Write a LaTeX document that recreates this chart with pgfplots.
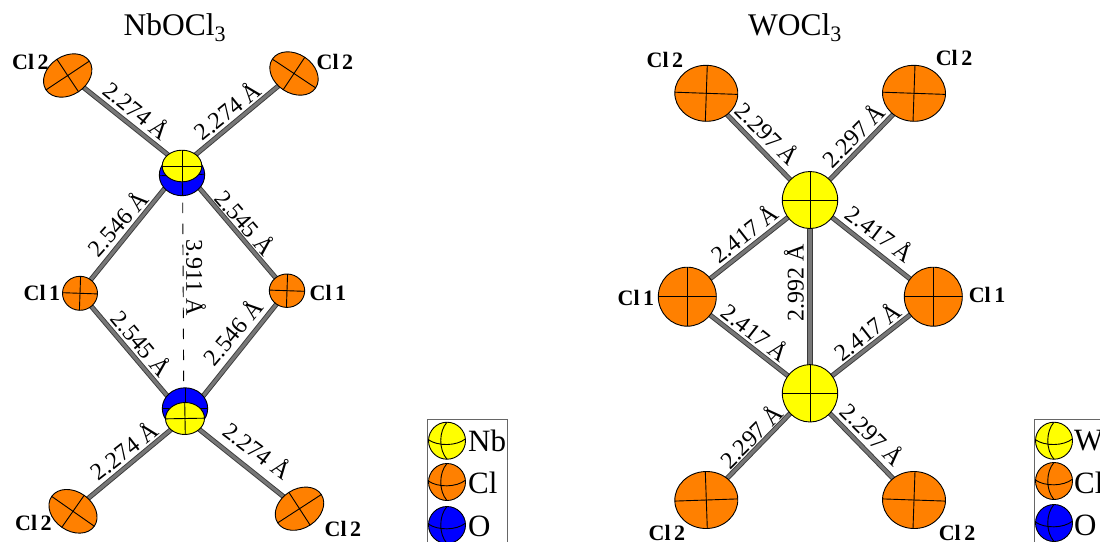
\documentclass[border=0pt]{standalone}
\usepackage{fontspec}
\setmainfont{Liberation Serif}
\usepackage{pgfplots}
\pgfplotsset{compat=1.18}

\definecolor{clorange}{HTML}{FF8000}
\definecolor{atomyellow}{HTML}{FFFF00}
\definecolor{atomblue}{HTML}{0000FF}
\definecolor{bondgray}{HTML}{777777}
\definecolor{bondedge}{HTML}{3A3A3A}

% unit ellipsoid with principal axes
\pgfdeclareplotmark{atom}{%
  \pgfpathcircle{\pgfpointorigin}{1pt}\pgfusepathqfillstroke
  \pgfpathmoveto{\pgfqpoint{-1pt}{0pt}}\pgfpathlineto{\pgfqpoint{1pt}{0pt}}
  \pgfpathmoveto{\pgfqpoint{0pt}{-1pt}}\pgfpathlineto{\pgfqpoint{0pt}{1pt}}
  \pgfusepathqstroke}
% legend sphere, curved axes
\pgfdeclareplotmark{sphere}{%
  \pgfpathcircle{\pgfpointorigin}{1pt}\pgfusepathqfillstroke
  \pgfpathmoveto{\pgfqpoint{-1pt}{0.05pt}}
  \pgfpathcurveto{\pgfqpoint{-0.5pt}{-0.3pt}}{\pgfqpoint{0.5pt}{-0.3pt}}{\pgfqpoint{1pt}{0.1pt}}
  \pgfpathmoveto{\pgfqpoint{0pt}{1pt}}
  \pgfpathcurveto{\pgfqpoint{-0.45pt}{0.5pt}}{\pgfqpoint{-0.45pt}{-0.5pt}}{\pgfqpoint{0pt}{-1pt}}
  \pgfusepathqstroke}

\newcommand{\atom}[6]{\addplot[only marks,mark=atom,mark options={rotate=#5,xscale=#3,yscale=#4,fill=#6,draw=black,line width=0.9pt,solid}] coordinates {(#1,#2)};}
\newcommand{\sphere}[3]{\addplot[only marks,mark=sphere,mark options={scale=18.5,fill=#3,draw=black,line width=0.9pt,solid}] coordinates {(#1,#2)};}
\newcommand{\bond}[4]{%
  \addplot[bondedge,line width=5pt] coordinates {(#1,#2) (#3,#4)};
  \addplot[bondgray,line width=3.2pt] coordinates {(#1,#2) (#3,#4)};}
\newcommand{\dist}[4]{\node[rotate=#3,inner sep=0pt,font=\fontsize{24}{24}\selectfont] at (axis cs:#1,#2) {#4~Å};}
\newcommand{\cl}[3]{\node[inner sep=0pt,font=\fontsize{22}{22}\selectfont\bfseries] at (axis cs:#1,#2) {Cl\hspace{0.16em}#3};}
\newcommand{\legtext}[3]{\node[anchor=west,inner sep=0pt,font=\fontsize{31}{31}\selectfont] at (axis cs:#1,#2) {#3};}

\begin{document}
\begin{tikzpicture}
\path[use as bounding box,clip] (0,0) rectangle (1100pt,541pt);
\begin{axis}[
    scale only axis,
    width=1100pt,
    height=541pt,
    xmin=0, xmax=1100,
    ymin=0, ymax=541,
    y dir=reverse,
    hide axis]

  % NbOCl3
  \node[font=\fontsize{31.5}{32}\selectfont] at (axis cs:175,28) {NbOCl\textsubscript{3}};
  \addplot[black,line width=0.9pt,dash pattern=on 10.5pt off 10.5pt] coordinates {(182.7,202.7) (183.7,383)};
  \bond{182}{166}{68}{75}
  \bond{182}{166}{294}{73}
  \bond{185}{418}{73}{511}
  \bond{185}{418}{299}{509}
  \atom{182}{175}{22.7}{20.7}{2}{atomblue}
  \atom{185}{408.5}{22.7}{20.7}{0}{atomblue}
  \bond{171.5}{180}{80}{293}
  \bond{192.5}{180}{287}{291}
  \bond{175}{405}{80}{293}
  \bond{196}{405}{287}{291}
  \atom{182}{166}{19.8}{15.8}{0}{atomyellow}
  \atom{185}{418.5}{19.5}{16}{1}{atomyellow}
  \atom{67.7}{75.5}{26}{19.5}{33.6}{clorange}
  \atom{294}{73.5}{26}{19.5}{-33.6}{clorange}
  \atom{73}{511.3}{26}{19.5}{-35}{clorange}
  \atom{299.5}{508.7}{26}{19.5}{33}{clorange}
  \atom{80}{293.3}{17.5}{17}{-2}{clorange}
  \atom{287}{290.7}{17.7}{16.7}{-2}{clorange}
  \dist{137.5}{110}{-39}{2.274}
  \dist{226.7}{110}{39}{2.274}
  \dist{117.5}{223}{48}{2.546}
  \dist{246}{222}{-49}{2.545}
  \dist{142}{342.7}{-50}{2.545}
  \dist{232}{331.7}{50}{2.546}
  \dist{123.5}{450}{38}{2.274}
  \dist{258}{450}{-37}{2.274}
  \dist{196}{277.5}{-90}{3.911}
  \cl{30.5}{62}{2}
  \cl{335}{62}{2}
  \cl{42}{293}{1}
  \cl{328}{293}{1}
  \cl{33.5}{523}{2}
  \cl{343}{529}{2}

  % WOCl3
  \node[font=\fontsize{31.5}{32}\selectfont] at (axis cs:795,28) {WOCl\textsubscript{3}};
  \bond{810}{200}{706}{93}
  \bond{810}{200}{914}{93}
  \bond{810}{200}{687}{297}
  \bond{810}{200}{933}{297}
  \bond{810}{393}{687}{297}
  \bond{810}{393}{933}{297}
  \bond{810}{393}{706}{500}
  \bond{810}{393}{914}{500}
  \addplot[bondedge,line width=6pt] coordinates {(810,200) (810,393)};
  \addplot[bondgray,line width=4pt] coordinates {(810,200) (810,393)};
  \atom{706.3}{93.3}{31.5}{28}{-2}{clorange}
  \atom{914}{93.3}{31.5}{28}{-2}{clorange}
  \atom{706.3}{500}{31.5}{28.5}{2}{clorange}
  \atom{914}{500}{31.5}{28.5}{-2}{clorange}
  \atom{687.3}{296.7}{29}{29.5}{0}{clorange}
  \atom{933.3}{296.7}{29}{29.5}{0}{clorange}
  \atom{810}{200}{27.7}{28.5}{0}{atomyellow}
  \atom{810}{393.3}{27.7}{28.7}{0}{atomyellow}
  \dist{768}{133}{-45}{2.297}
  \dist{853}{135}{45}{2.297}
  \dist{744}{233}{38}{2.417}
  \dist{880.5}{233}{-37}{2.417}
  \dist{756}{332}{-38}{2.417}
  \dist{867}{331}{38}{2.417}
  \dist{750.5}{436}{45}{2.297}
  \dist{873}{434}{-45}{2.297}
  \dist{794}{283}{90}{2.992}
  \cl{665}{60}{2}
  \cl{954}{58}{2}
  \cl{636}{298}{1}
  \cl{987}{295}{1}
  \cl{667}{533}{2}
  \cl{957}{533}{2}

  % keys
  \addplot[black!60,line width=1pt] coordinates {(427.5,560) (427.5,419.5) (507,419.5) (507,560)};
  \sphere{447}{440.7}{atomyellow}
  \sphere{447}{482}{clorange}
  \sphere{447}{525}{atomblue}
  \legtext{468}{441}{Nb}
  \legtext{468}{483}{Cl}
  \legtext{468}{526}{O}
  \addplot[black!60,line width=1pt] coordinates {(1034,560) (1034,419.5) (1110,419.5)};
  \sphere{1054}{440.7}{atomyellow}
  \sphere{1054}{481}{clorange}
  \sphere{1054}{523}{atomblue}
  \legtext{1074}{441}{W}
  \legtext{1074}{483}{Cl}
  \legtext{1074}{525}{O}
\end{axis}
\end{tikzpicture}
\end{document}
